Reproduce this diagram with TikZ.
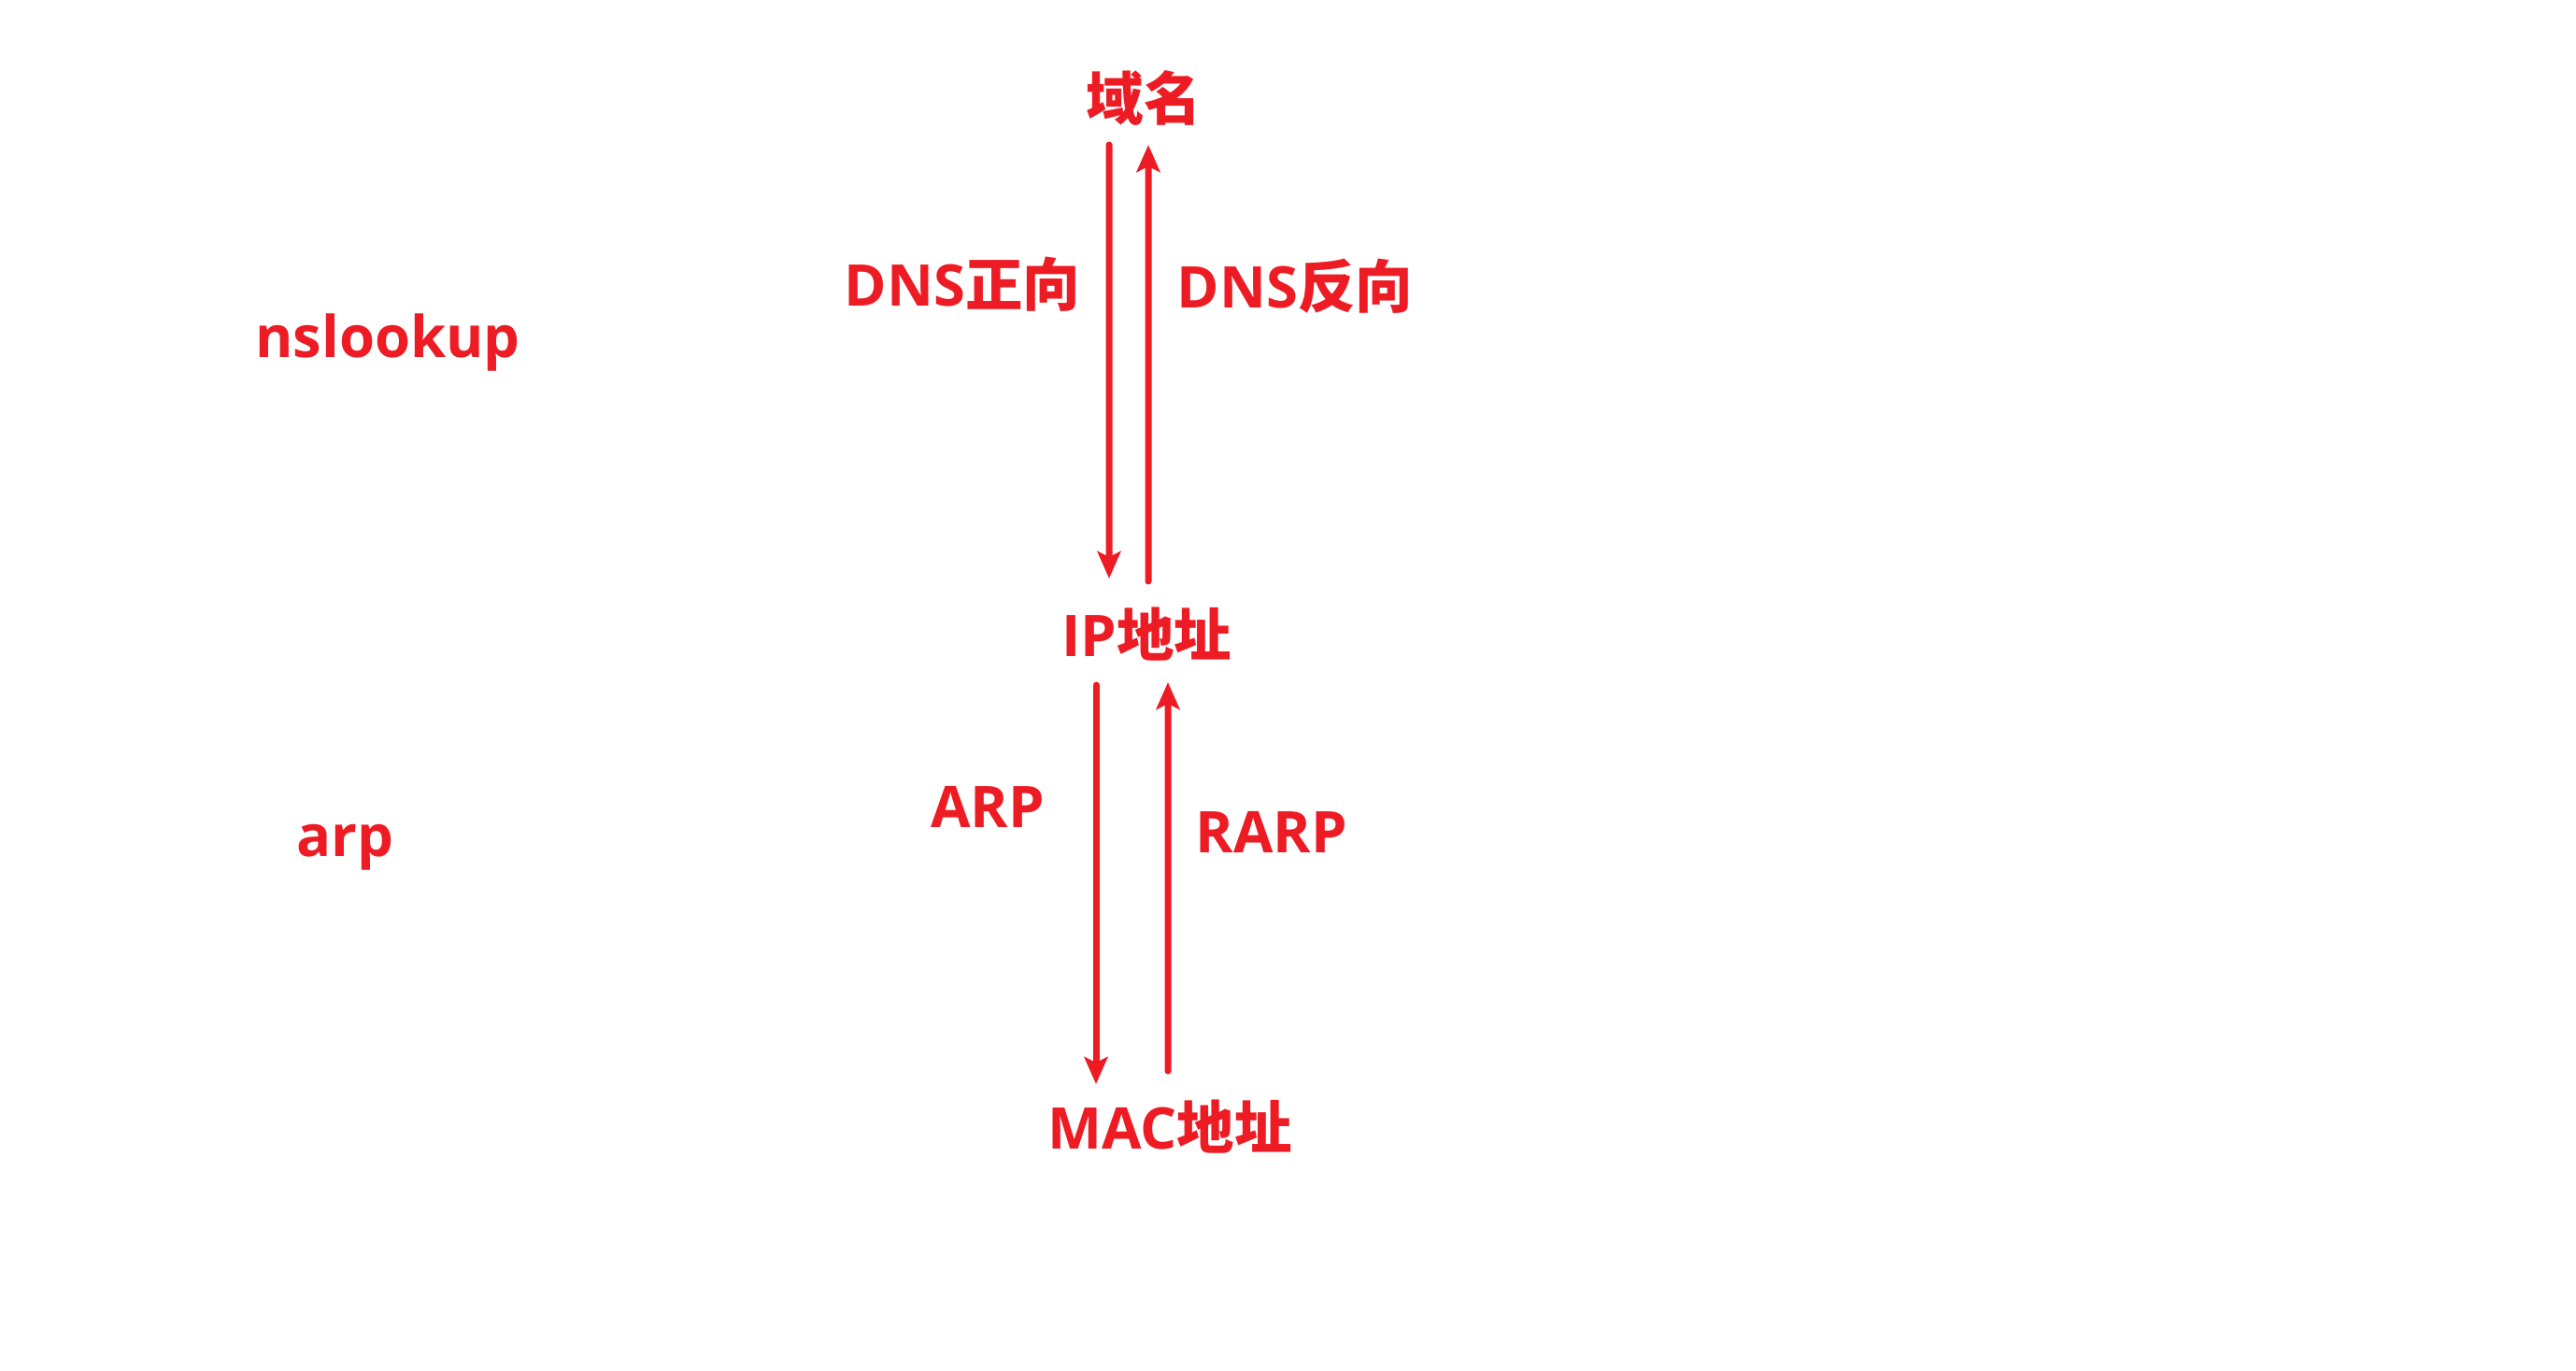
\documentclass[tikz,border=0pt]{standalone}
\usepackage{fontspec}
\usepackage{xcolor}
\setmainfont{Open Sans}
\newfontfamily\cjk{Noto Sans CJK SC}
\usepackage{tikz}
\usetikzlibrary{arrows.meta}
\definecolor{netred}{RGB}{237,28,36}

\begin{document}
\begin{tikzpicture}[
  lbl/.style={text=netred,inner sep=0pt,font=\fontsize{17.5}{20}\selectfont\bfseries},
  arr/.style={-{Stealth[length=2.9mm,width=2.5mm,inset=0.6mm]},netred,line width=2pt,line cap=round}]
\useasboundingbox (0,0) rectangle (27.57,-14.66);
\node[lbl] (dom) at (12.24,-1.05) {\cjk 域名};
\node[lbl] (ip) at (12.27,-6.79) {IP{\cjk 地址}};
\node[lbl] (mac) at (12.52,-12.06) {MAC{\cjk 地址}};
\node[lbl] (fwd) at (10.30,-3.04) {DNS{\cjk 正向}};
\node[lbl] (rev) at (13.86,-3.06) {DNS{\cjk 反向}};
\node[lbl] (arplbl) at (10.57,-8.63) {ARP};
\node[lbl] (rarplbl) at (13.61,-8.90) {RARP};
\node[lbl] (nsl) at (4.15,-3.67) {nslookup};
\node[lbl] (arpcmd) at (3.69,-9.07) {arp};
% domain <-> ip
\draw[arr] ([xshift=-3.7mm,yshift=-5mm]dom.center) -- ([xshift=-4mm,yshift=6mm]ip.center);
\draw[arr] ([xshift=0.2mm,yshift=5.7mm]ip.center) -- ([xshift=0.5mm,yshift=-5mm]dom.center);
% ip <-> mac
\draw[arr] ([xshift=-5.4mm,yshift=-5.4mm]ip.center) -- ([xshift=-7.9mm,yshift=4.6mm]mac.center);
\draw[arr] ([xshift=-0.2mm,yshift=6mm]mac.center) -- ([xshift=2.3mm,yshift=-5.1mm]ip.center);
\end{tikzpicture}
\end{document}
